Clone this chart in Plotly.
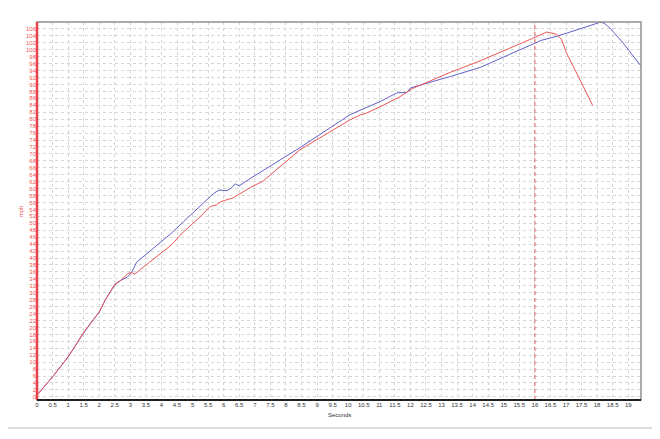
import plotly.graph_objects as go

# Run 1 (blue) speed trace
blue_t = [0, 0.5, 1, 1.5, 2, 2.2, 2.5, 2.7, 2.9, 3.05, 3.2, 3.6, 4.3, 4.7,
          5.2, 5.66, 5.85, 6.1, 6.25, 6.37, 6.5, 6.85, 8.45, 10.06, 11.03,
          11.57, 11.89, 12.0, 13.28, 14.24, 16.2, 16.75, 18.09, 18.22, 18.42,
          18.84, 19.4]
blue_mph = [0.5, 5.8, 11.5, 18.4, 24.5, 28, 32.3, 33.6, 34.5, 36, 38.8, 41.8,
            47, 50.4, 54.5, 58.5, 59.6, 59.4, 60.2, 61.4, 60.8, 62.9, 71.8,
            81.3, 85.1, 87.6, 87.7, 89, 92.3, 94.9, 102.7, 104, 107.9, 107.7,
            106.2, 101.9, 95.4]

# Run 2 (red) speed trace
red_t = [0, 0.5, 1, 1.5, 2, 2.2, 2.5, 2.71, 2.93, 3.03, 3.14, 3.3, 3.62, 4.32,
         4.7, 5.2, 5.56, 5.77, 5.9, 6.1, 6.3, 6.85, 7.27, 8.45, 10.06, 10.4,
         10.55, 11.03, 11.67, 12.06, 13.28, 14.24, 15.41, 16.06, 16.38, 16.7,
         16.86, 17.02, 17.34, 17.67, 17.86]
red_mph = [0.5, 5.8, 11.5, 18.6, 24.5, 28, 32.5, 33.7, 35.6, 35.8, 35.4, 36.5,
           38.8, 43.8, 47.5, 51.5, 54.8, 55.3, 56.2, 56.8, 57.3, 60.3, 62.2,
           71.2, 79.8, 81.3, 81.6, 83.6, 86.5, 88.8, 93.5, 96.8, 101.2, 103.8,
           105.1, 104.5, 102.9, 99, 93.3, 87.5, 83.9]

marker_t = 16
x_ticks = [i * 0.5 for i in range(39)]
x_labels = [f"{v:g}" for v in x_ticks]
y_ticks = list(range(0, 107, 2))

RED = "#ec5656"
BLUE = "#6262cc"

fig = go.Figure()
fig.add_trace(go.Scatter(x=blue_t, y=blue_mph, mode="lines",
                         line={"color": BLUE, "width": 1}, name="Run 1"))
fig.add_trace(go.Scatter(x=red_t, y=red_mph, mode="lines",
                         line={"color": RED, "width": 1}, name="Run 2"))

# dashed marker line at 16 s
fig.add_shape(type="line", x0=marker_t, x1=marker_t, y0=0, y1=1, yref="paper",
              line={"color": "#e06060", "width": 1, "dash": "4px,3px"})
# grey frame (top/right), then coloured left/bottom axis lines
fig.add_shape(type="rect", x0=0, x1=1, y0=0, y1=1, xref="paper", yref="paper",
              line={"color": "#909090", "width": 1.5})
fig.add_shape(type="line", x0=0, x1=0, y0=0, y1=1, xref="paper", yref="paper",
              line={"color": "#e8434a", "width": 2.5})
fig.add_shape(type="line", x0=0, x1=1, y0=0, y1=0, xref="paper", yref="paper",
              line={"color": "#202020", "width": 2})
# window separator at the bottom
fig.add_shape(type="line", x0=-0.07, x1=1.05, y0=-0.074, y1=-0.074,
              xref="paper", yref="paper",
              line={"color": "#dcdcdc", "width": 2})

# axis titles
fig.add_annotation(text="mph", x=-0.026, y=0.5, xref="paper", yref="paper",
                   xanchor="center", yanchor="middle", textangle=-90,
                   showarrow=False, font={"size": 6, "color": RED})
fig.add_annotation(text="Seconds", x=0.5, y=-0.04, xref="paper", yref="paper",
                   xanchor="center", yanchor="middle", showarrow=False,
                   font={"size": 6, "color": "#333333"})

# page body adds an 8px offset, so the figure is sized to fit the window
fig.update_layout(
    width=652,
    height=431,
    showlegend=False,
    plot_bgcolor="white",
    paper_bgcolor="white",
    margin={"l": 29, "r": 19, "t": 14, "b": 39},
    font={"family": "Liberation Sans, Arial, sans-serif", "size": 7},
)
fig.update_xaxes(
    range=[0, 19.41],
    tickvals=x_ticks,
    ticktext=x_labels,
    tickfont={"size": 6, "color": "#333333"},
    ticks="",
    showgrid=True,
    gridcolor="#d6d6d6",
    griddash="dot",
    gridwidth=1,
    zeroline=False,
    automargin=False,
)
fig.update_yaxes(
    range=[-0.9, 108],
    tickvals=y_ticks,
    tickfont={"size": 6, "color": RED},
    ticks="",
    showgrid=True,
    gridcolor="#d6d6d6",
    griddash="dot",
    gridwidth=1,
    zeroline=False,
    automargin=False,
)

fig.write_html("out.html")
